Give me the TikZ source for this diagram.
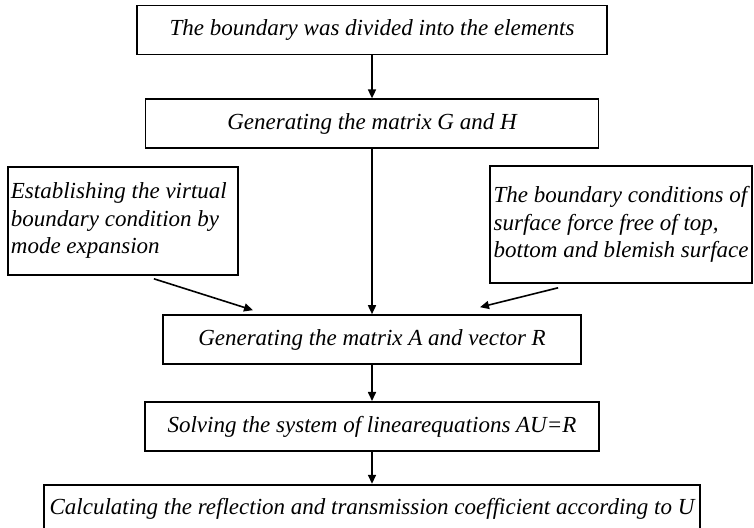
\documentclass[tikz,border=0pt]{standalone}
\usepackage{fontspec}
\setmainfont{Liberation Serif}
\usetikzlibrary{arrows.meta, positioning}

\begin{document}
\begin{tikzpicture}[
    node distance=20pt,
    stepbox/.style={rectangle, draw, line width=0.9pt, minimum height=24.5pt, inner sep=2pt, text centered, font=\fontsize{11.5}{13.75}\selectfont\itshape},
    sidebox/.style={rectangle, draw, line width=0.9pt, minimum height=#1, inner xsep=1.5pt, inner ysep=2pt, align=flush left, font=\fontsize{11.5}{13.75}\selectfont\itshape},
    arrow/.style={-{Triangle[length=4.5pt, width=4pt]}, line width=0.8pt}
]
\useasboundingbox (0,0) rectangle (377pt,-264pt);

% main column
\node[stepbox, minimum width=235pt] (divide) at (186pt,-15pt) {The boundary was divided into the elements};
\node[stepbox, minimum width=226.5pt, below=21.5pt of divide] (genGH) {Generating the matrix G and H};
\node[stepbox, minimum width=209pt, below=82.5pt of genGH] (genAR) {Generating the matrix A and vector R};
\node[stepbox, minimum width=227pt, below=18pt of genAR] (solve) {Solving the system of linearequations AU=R};
\node[stepbox, minimum width=328pt, below=16pt of solve] (coeff) {Calculating the reflection and transmission coefficient according to U};

% side inputs
\node[sidebox=54pt, text width=112pt, anchor=north west] (virtual) at (3.5pt,-83pt)
    {Establishing the virtual\\ boundary condition by\\ mode expansion};
\node[sidebox=58.5pt, minimum width=131pt, anchor=north east] (freecond) at (376.5pt,-82.5pt)
    {The boundary conditions of\\ surface force free of top,\\ bottom and blemish surface};

\draw[arrow] (divide) -- (genGH);
\draw[arrow] (genGH) -- (genAR);
\draw[arrow] ([xshift=15.5pt, yshift=-1.5pt]virtual.south) -- ([xshift=-59.5pt, yshift=2pt]genAR.north);
\draw[arrow] ([xshift=-31.5pt, yshift=-2pt]freecond.south) -- ([xshift=54pt, yshift=3.5pt]genAR.north);
\draw[arrow] (genAR) -- (solve);
\draw[arrow] (solve) -- (coeff);

\end{tikzpicture}
\end{document}
